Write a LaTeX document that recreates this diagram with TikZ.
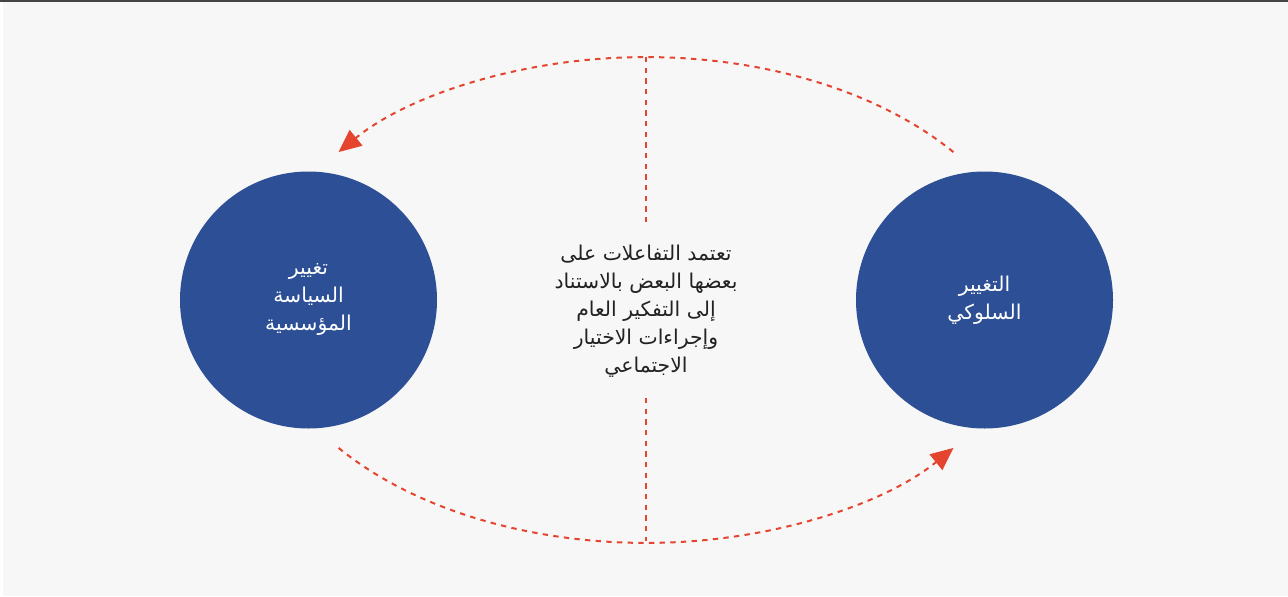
\documentclass[tikz,border=0pt]{standalone}
\usepackage{fontspec}
\usetikzlibrary{arrows.meta}
\TeXXeTstate=1
\newfontfamily\arabicfont[Script=Arabic]{DejaVu Sans}
\newcommand{\rl}[1]{\beginR #1\endR}

\definecolor{panelgray}{RGB}{247,247,247}
\definecolor{circleblue}{RGB}{44,79,150}
\definecolor{loopred}{RGB}{229,69,46}

\tikzset{every picture/.style={line width=0.75pt}}
\tikzset{
  stage/.style={circle, fill=circleblue, minimum size=192.75pt, inner sep=0pt,
    text=white, align=center, font=\arabicfont\fontsize{15.3}{21}\selectfont},
  loop/.style={draw=loopred, line width=1.5pt, dash pattern={on 4pt off 4pt}},
  looptip/.style={-{Triangle[length=17pt,width=15pt]}}
}

\begin{document}
\begin{tikzpicture}[x=0.75pt,y=0.75pt,yscale=-1,xscale=1]
\useasboundingbox (0,0) rectangle (1288,596);

%Shape: Rectangle [background]
\fill [white] (0,0) rectangle (1288,596);
\fill [panelgray] (3,0) rectangle (1288,596);
%Straight Lines [top rule]
\draw [line width=1.5pt, draw={rgb, 255:red, 68; green, 68; blue, 68 }] (0,1) -- (1288,1);

%Shape: Circle [left]
\node [stage] (policy) at (308.5,300) {\rl{تغيير}\\\rl{السياسة}\\\rl{المؤسسية}};
%Shape: Circle [right]
\node [stage] (behaviour) at (984.5,300) {\rl{التغيير}\\\rl{السلوكي}};

% Text Node
\node [align=center, text={rgb, 255:red, 34; green, 34; blue, 34 }, font=\arabicfont\fontsize{15.3}{21}\selectfont] (note) at (646,311)
  {\rl{تعتمد التفاعلات على}\\\rl{بعضها البعض بالاستناد}\\\rl{إلى التفكير العام}\\\rl{وإجراءات الاختيار}\\\rl{الاجتماعي}};

\coordinate (topright) at (953.4,152.1);
\coordinate (bottomleft) at (338.6,447.9);
\coordinate (apex) at (646,57);
\coordinate (base) at (646,541);
\coordinate (noteup) at (646,222);
\coordinate (notedown) at (646,398);

%Curve Lines [top arc, back to policy]
\draw [loop, looptip] (topright) arc [start angle=-37.4, end angle=-142.6, x radius=387, y radius=242];
%Curve Lines [bottom arc, on to behaviour]
\draw [loop, looptip] (bottomleft) arc [start angle=142.6, end angle=37.4, x radius=387, y radius=242];

%Straight Lines [stems]
\draw [loop] (apex) -- (noteup);
\draw [loop] (notedown) -- (base);

\end{tikzpicture}
\end{document}
